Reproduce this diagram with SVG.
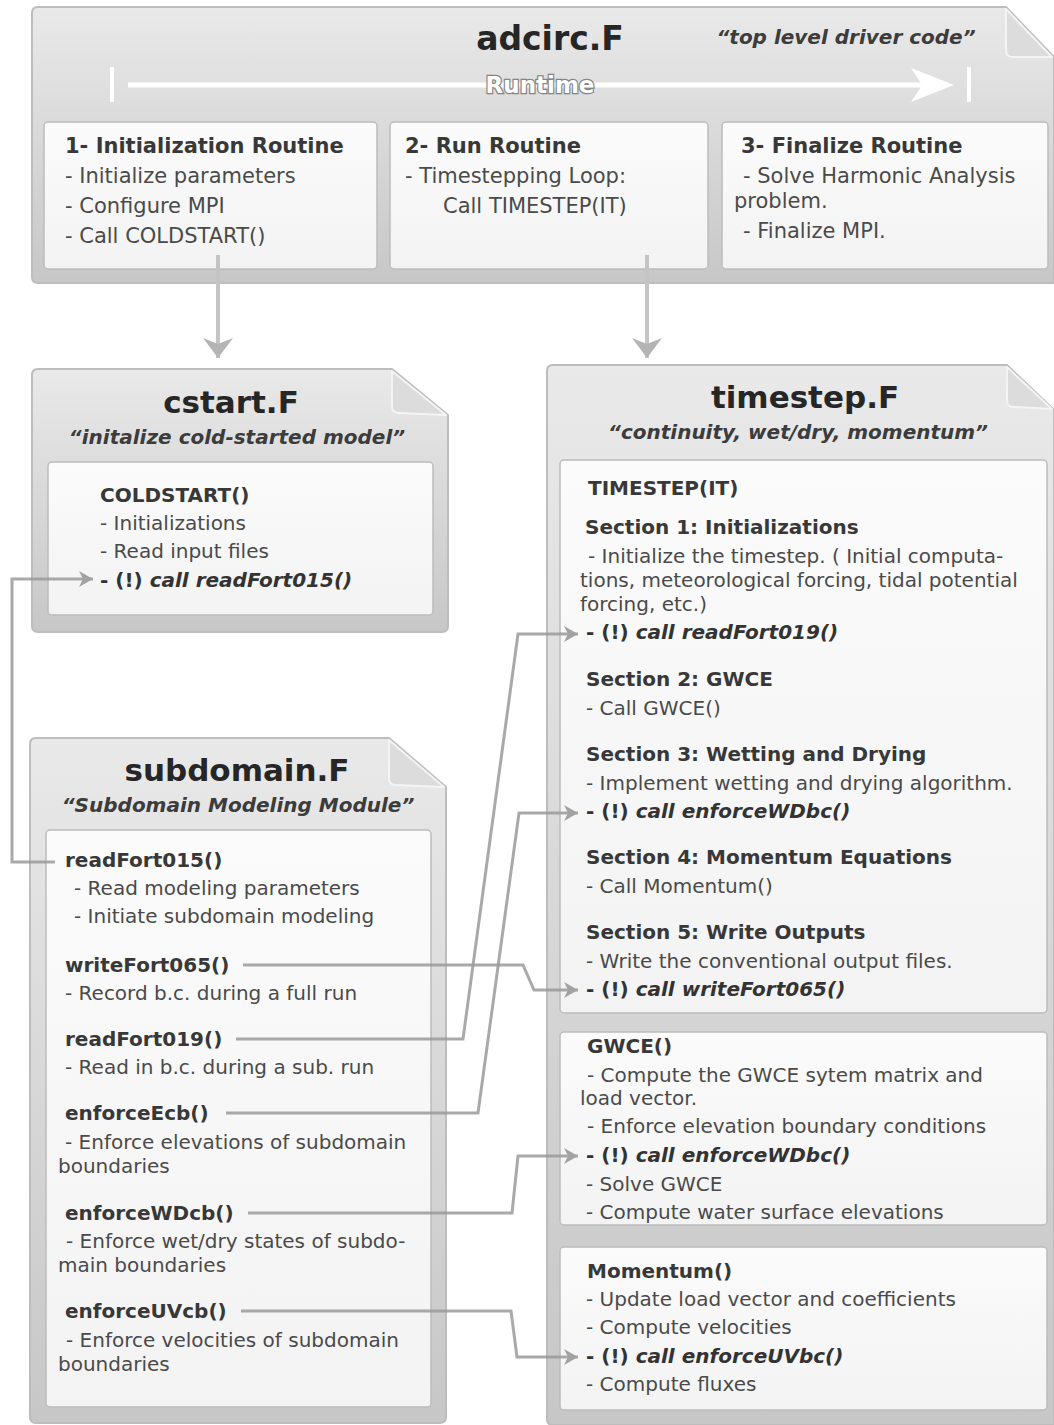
<svg xmlns="http://www.w3.org/2000/svg" width="1054" height="1425" viewBox="0 0 1054 1425">
<defs>
<linearGradient id="panelG" x1="0" y1="0" x2="0" y2="1">
<stop offset="0" stop-color="#e9e9e9"/>
<stop offset="1" stop-color="#c7c7c7"/>
</linearGradient>
<linearGradient id="boxG" x1="0" y1="0" x2="0" y2="1">
<stop offset="0" stop-color="#fbfbfb"/>
<stop offset="1" stop-color="#f3f3f3"/>
</linearGradient>
<marker id="ah" markerUnits="userSpaceOnUse" viewBox="0 0 14 16" markerWidth="14" markerHeight="16" refX="14" refY="8" orient="auto">
<path d="M0,0 L14,8 L0,16 L4,8 Z" fill="#a2a2a2"/>
</marker>
<marker id="ahBig" markerUnits="userSpaceOnUse" viewBox="0 0 20 30" markerWidth="20" markerHeight="30" refX="20" refY="15" orient="auto">
<path d="M0,0 L20,15 L0,30 L6,15 Z" fill="#b4b4b4"/>
</marker>
</defs>
<style>
text{font-family:"DejaVu Sans",Verdana,sans-serif;}
.panel{fill:url(#panelG);stroke:#bdbdbd;stroke-width:2;}
.fold{fill:#dcdcdc;stroke:#f4f4f4;stroke-width:2;stroke-linejoin:round;}
.box{fill:url(#boxG);stroke:#bcbcbc;stroke-width:1.5;}
.title{font-size:31px;font-weight:bold;fill:#262626;text-anchor:middle;}
.sub{font-size:20px;font-weight:bold;font-style:italic;fill:#3c3c3c;text-anchor:middle;}
.h{font-size:20px;font-weight:bold;fill:#383838;}
.t{font-size:20px;fill:#4a4a4a;}
.ht{font-size:21px;font-weight:bold;fill:#383838;}
.tt{font-size:21px;fill:#4a4a4a;}
.c{font-weight:bold;fill:#333;}
.ci{font-weight:bold;font-style:italic;fill:#333;}
.con{fill:none;stroke:#9a9a9a;stroke-opacity:0.85;stroke-width:3;stroke-linejoin:miter;}
.vcon{fill:none;stroke:#c4c4c4;stroke-width:4;}
</style>

<g id="adcirc">
<path class="panel" d="M38,7 H1006 L1054,57 V283 H38 Q32,283 32,277 V13 Q32,7 38,7 Z"/>
<path class="fold" d="M1006,9 L1006,50 Q1006,57 1013,57 L1052,57 Z"/>
<text class="title" x="550" y="50" style="font-size:33px">adcirc.F</text>
<text class="sub" x="846" y="44">“top level driver code”</text>
<g id="runtime">
<line x1="112" y1="67" x2="112" y2="102" stroke="#ffffff" stroke-width="4"/>
<line x1="969" y1="67" x2="969" y2="102" stroke="#ffffff" stroke-width="4"/>
<line x1="128" y1="85" x2="930" y2="85" stroke="#ffffff" stroke-width="5"/>
<path d="M911,68 L954,85 L911,102 L922,85 Z" fill="#ffffff"/>
<text x="540" y="93" text-anchor="middle" style="font-size:23px;font-weight:bold;fill:#ffffff;stroke:#858585;stroke-width:2.5;paint-order:stroke;">Runtime</text>
</g>
</g>

<g id="init-routine">
<rect class="box" x="44" y="122" width="333" height="147" rx="4"/>
<text class="ht" x="65" y="153">1- Initialization Routine</text>
<text class="tt" x="65" y="183">- Initialize parameters</text>
<text class="tt" x="65" y="213">- Configure MPI</text>
<text class="tt" x="65" y="243">- Call COLDSTART()</text>
</g>

<g id="run-routine">
<rect class="box" x="390" y="122" width="318" height="147" rx="4"/>
<text class="ht" x="405" y="153">2- Run Routine</text>
<text class="tt" x="405" y="183">- Timestepping Loop:</text>
<text class="tt" x="443" y="213">Call TIMESTEP(IT)</text>
</g>

<g id="finalize-routine">
<rect class="box" x="722" y="122" width="326" height="147" rx="4"/>
<text class="ht" x="741" y="153">3- Finalize Routine</text>
<text class="tt" x="743" y="183">- Solve Harmonic Analysis</text>
<text class="tt" x="734" y="208">problem.</text>
<text class="tt" x="743" y="238">- Finalize MPI.</text>
</g>

<g id="cstart">
<path class="panel" d="M38,369 H392 L448,415 V626 Q448,632 442,632 H38 Q32,632 32,626 V375 Q32,369 38,369 Z"/>
<path class="fold" d="M392,371 L392,406 Q392,413 399,413 L446,415 Z"/>
<text class="title" x="231" y="413">cstart.F</text>
<text class="sub" x="237" y="444">“initalize cold-started model”</text>
<rect class="box" x="48" y="462" width="385" height="153" rx="4"/>
<text class="h" x="100" y="502">COLDSTART()</text>
<text class="t" x="100" y="530">- Initializations</text>
<text class="t" x="100" y="558">- Read input files</text>
<text class="t" x="100" y="587"><tspan class="c">- (!) </tspan><tspan class="ci">call readFort015()</tspan></text>
</g>

<g id="subdomain">
<path class="panel" d="M36,738 H389 L446,787 V1417 Q446,1423 440,1423 H36 Q30,1423 30,1417 V744 Q30,738 36,738 Z"/>
<path class="fold" d="M389,740 L389,778 Q389,785 396,785 L444,787 Z"/>
<text class="title" x="237" y="781">subdomain.F</text>
<text class="sub" x="238" y="812">“Subdomain Modeling Module”</text>
<rect class="box" x="46" y="830" width="385" height="577" rx="4"/>
<text class="h" x="65" y="867">readFort015()</text>
<text class="t" x="74" y="895">- Read modeling parameters</text>
<text class="t" x="74" y="923">- Initiate subdomain modeling</text>
<text class="h" x="65" y="972">writeFort065()</text>
<text class="t" x="65" y="1000">- Record b.c. during a full run</text>
<text class="h" x="65" y="1046">readFort019()</text>
<text class="t" x="65" y="1074">- Read in b.c. during a sub. run</text>
<text class="h" x="65" y="1120">enforceEcb()</text>
<text class="t" x="65" y="1149">- Enforce elevations of subdomain</text>
<text class="t" x="58" y="1173">boundaries</text>
<text class="h" x="65" y="1220">enforceWDcb()</text>
<text class="t" x="66" y="1248">- Enforce wet/dry states of subdo-</text>
<text class="t" x="58" y="1272">main boundaries</text>
<text class="h" x="65" y="1318">enforceUVcb()</text>
<text class="t" x="66" y="1347">- Enforce velocities of subdomain</text>
<text class="t" x="58" y="1371">boundaries</text>
</g>

<g id="timestep">
<path class="panel" d="M553,365 H1007 L1054,410 V1425 H553 Q547,1425 547,1419 V371 Q547,365 553,365 Z"/>
<path class="fold" d="M1007,367 L1007,400 Q1007,407 1014,407 L1052,409 Z"/>
<text class="title" x="805" y="408">timestep.F</text>
<text class="sub" x="798" y="439">“continuity, wet/dry, momentum”</text>
</g>

<g id="timestep-it">
<rect class="box" x="560" y="460" width="487" height="553" rx="4"/>
<text class="h" x="588" y="495">TIMESTEP(IT)</text>
<text class="h" x="585" y="534">Section 1: Initializations</text>
<text class="t" x="588" y="563">- Initialize the timestep. ( Initial computa-</text>
<text class="t" x="580" y="587">tions, meteorological forcing, tidal potential</text>
<text class="t" x="580" y="611">forcing, etc.)</text>
<text class="t" x="586" y="639"><tspan class="c">- (!) </tspan><tspan class="ci">call readFort019()</tspan></text>
<text class="h" x="586" y="686">Section 2:  GWCE</text>
<text class="t" x="586" y="715">- Call GWCE()</text>
<text class="h" x="586" y="761">Section 3: Wetting and Drying</text>
<text class="t" x="586" y="790">- Implement wetting and drying algorithm.</text>
<text class="t" x="586" y="818"><tspan class="c">- (!) </tspan><tspan class="ci">call enforceWDbc()</tspan></text>
<text class="h" x="586" y="864">Section 4: Momentum Equations</text>
<text class="t" x="586" y="893">- Call Momentum()</text>
<text class="h" x="586" y="939">Section 5: Write Outputs</text>
<text class="t" x="586" y="968">- Write the conventional output files.</text>
<text class="t" x="586" y="996"><tspan class="c">- (!) </tspan><tspan class="ci">call writeFort065()</tspan></text>
</g>

<g id="gwce">
<rect class="box" x="560" y="1032" width="487" height="193" rx="4"/>
<text class="h" x="587" y="1053">GWCE()</text>
<text class="t" x="587" y="1082">- Compute the GWCE sytem matrix and</text>
<text class="t" x="580" y="1105">load vector.</text>
<text class="t" x="587" y="1133">- Enforce elevation boundary conditions</text>
<text class="t" x="586" y="1162"><tspan class="c">- (!) </tspan><tspan class="ci">call enforceWDbc()</tspan></text>
<text class="t" x="586" y="1191">- Solve GWCE</text>
<text class="t" x="586" y="1219">- Compute water surface elevations</text>
</g>

<g id="momentum">
<rect class="box" x="560" y="1247" width="487" height="163" rx="4"/>
<text class="h" x="587" y="1278">Momentum()</text>
<text class="t" x="586" y="1306">- Update load vector and coefficients</text>
<text class="t" x="586" y="1334">- Compute velocities</text>
<text class="t" x="586" y="1363"><tspan class="c">- (!) </tspan><tspan class="ci">call enforceUVbc()</tspan></text>
<text class="t" x="586" y="1391">- Compute fluxes</text>
</g>

<g id="connectors">
<path class="vcon" d="M218,255 V358" marker-end="url(#ahBig)"/>
<path class="vcon" d="M647,255 V358" marker-end="url(#ahBig)"/>
<path class="con" d="M55,862 H12 V579 H93" marker-end="url(#ah)"/>
<path class="con" d="M243,965 H523 L534,990 H578" marker-end="url(#ah)"/>
<path class="con" d="M236,1039 H463 L518,634 H578" marker-end="url(#ah)"/>
<path class="con" d="M226,1113 H478 L519,813 H578" marker-end="url(#ah)"/>
<path class="con" d="M248,1213 H512 L518,1156 H578" marker-end="url(#ah)"/>
<path class="con" d="M241,1311 H511 L517,1357 H578" marker-end="url(#ah)"/>
</g>
</svg>
